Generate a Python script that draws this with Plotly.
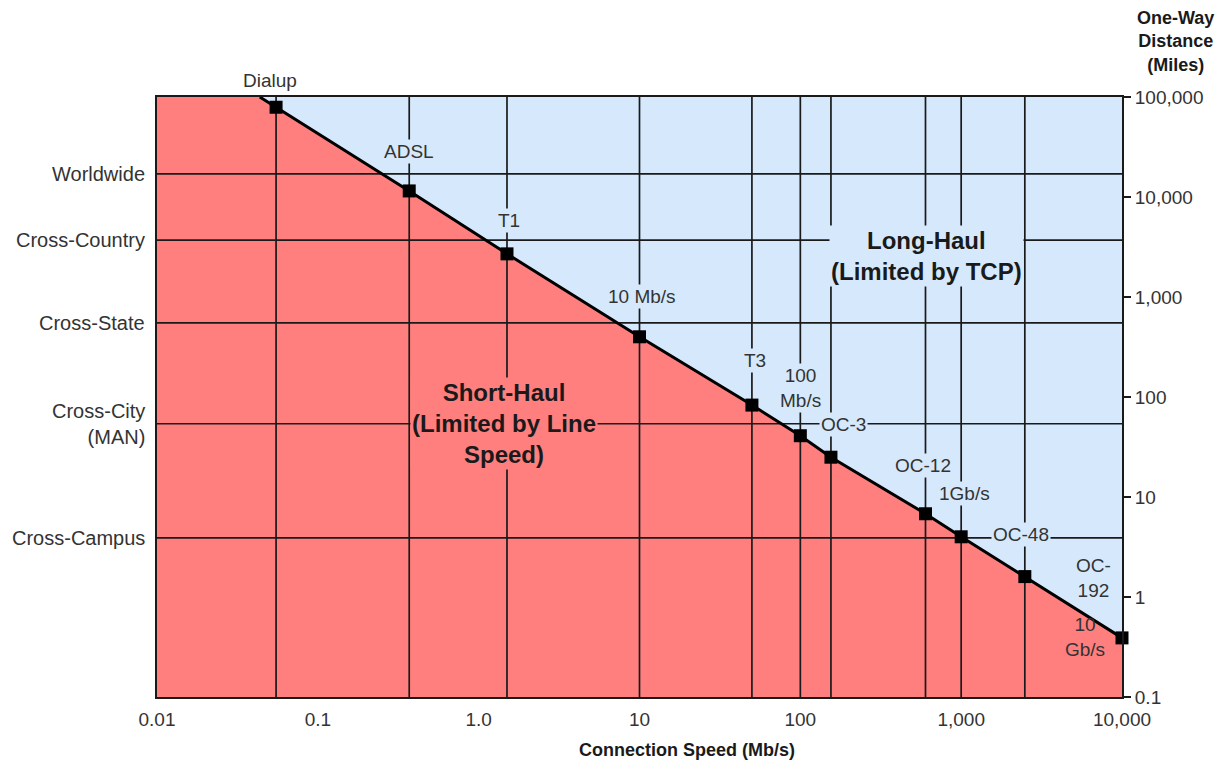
import math
import plotly.graph_objects as go

# connection types: speed (Mb/s) and the one-way distance (miles) where TCP window limits kick in
link_names = ['Dialup', 'ADSL', 'T1', '10 Mb/s', 'T3', '100<br>Mb/s', 'OC-3',
              'OC-12', '1Gb/s', 'OC-48', '10<br>Gb/s']
link_speeds = [0.055, 0.37, 1.5, 10, 50, 100, 155, 600, 1000, 2488, 10000]
link_distances = [79000, 11500, 2700, 400, 83, 41, 25, 6.8, 4.0, 1.6, 0.39]

zone_names = ['Worldwide', 'Cross-Country', 'Cross-State', 'Cross-City<br>(MAN)', 'Cross-Campus']
zone_distances = [17000, 3700, 550, 54, 3.9]

x_tickvals = [0.01, 0.1, 1, 10, 100, 1000, 10000]
x_ticktext = ['0.01', '0.1', '1.0', '10', '100', '1,000', '10,000']
y_tickvals = [0.1, 1, 10, 100, 1000, 10000, 100000]
y_ticktext = ['0.1', '1', '10', '100', '1,000', '10,000', '100,000']

RED = '#FF7F7F'
BLUE = '#D6E9FC'
FONT = 'Liberation Sans, Arial, sans-serif'
TXT = '#333333'

x_min, x_max = x_tickvals[0], x_tickvals[-1]
y_min, y_max = y_tickvals[0], y_tickvals[-1]

# extend the boundary line up to the top edge using the slope of the first segment
slope = ((math.log10(link_distances[1]) - math.log10(link_distances[0]))
         / (math.log10(link_speeds[1]) - math.log10(link_speeds[0])))
x_top = 10 ** (math.log10(link_speeds[0])
               + (math.log10(y_max) - math.log10(link_distances[0])) / slope)
line_x = [x_top] + link_speeds
line_y = [y_max] + link_distances

fig = go.Figure()

# short-haul (red) region below the line
fig.add_trace(go.Scatter(
    x=[x_min, x_min] + line_x + [x_max],
    y=[y_min, y_max] + line_y + [y_min],
    fill='toself', fillcolor=RED, mode='none', hoverinfo='skip', showlegend=False))

# grid lines
gx, gy = [], []
for s in link_speeds[:-1]:
    gx += [s, s, None]
    gy += [y_min, y_max, None]
for d in zone_distances:
    gx += [x_min, x_max, None]
    gy += [d, d, None]
fig.add_trace(go.Scatter(x=gx, y=gy, mode='lines', line=dict(color='#1a1a1a', width=1.7),
                         hoverinfo='skip', showlegend=False))

# boundary line and markers
fig.add_trace(go.Scatter(x=line_x, y=line_y, mode='lines', line=dict(color='black', width=3),
                         hoverinfo='skip', showlegend=False))
fig.add_trace(go.Scatter(x=link_speeds, y=link_distances, mode='markers', cliponaxis=False,
                         marker=dict(symbol='square', size=13, color='black'),
                         text=link_names, showlegend=False))

# label offsets (px) relative to each marker
label_shift = [(-6, 27), (0, 39), (2, 33), (2, 40), (3, 45), (0, 48), (13, 33),
               (-2, 48), (3, 43), (-4, 42), (-37, 1)]
for name, s, d, (dx, dy) in zip(link_names, link_speeds, link_distances, label_shift):
    bg = None if name in ('Dialup', '10<br>Gb/s') else BLUE
    fig.add_annotation(x=math.log10(s), y=math.log10(d), text=name, showarrow=False,
                       xshift=dx, yshift=dy, bgcolor=bg, borderpad=1,
                       font=dict(family=FONT, size=19, color=TXT))
# OC-192 sits in the blue area above the 10 Gb/s marker
fig.add_annotation(x=math.log10(link_speeds[-1]), y=math.log10(link_distances[-1]),
                   text='OC-<br>192', showarrow=False, xshift=-29, yshift=60,
                   bgcolor=BLUE, font=dict(family=FONT, size=19, color=TXT))

# zone labels on the left
for name, d in zip(zone_names, zone_distances):
    fig.add_annotation(x=0, xref='paper', y=math.log10(d), text=name, showarrow=False,
                       xanchor='right', xshift=-10, align='right',
                       font=dict(family=FONT, size=20, color=TXT))

# region labels
fig.add_annotation(x=0.36, xref='paper', y=0.455, yref='paper', xanchor='center',
                   yanchor='middle', text='<b>Short-Haul<br>(Limited by Line<br>Speed)</b>',
                   showarrow=False, bgcolor=RED, font=dict(family=FONT, size=24, color='#1a1a1a'))
fig.add_annotation(x=0.797, xref='paper', y=0.735, yref='paper', xanchor='center',
                   yanchor='middle', text='<b>Long-Haul<br>(Limited by TCP)</b>',
                   showarrow=False, bgcolor=BLUE, font=dict(family=FONT, size=24, color='#1a1a1a'))

# axis titles
fig.add_annotation(x=1, xref='paper', y=1, yref='paper', text='<b>One-Way<br>Distance<br>(Miles)</b>',
                   showarrow=False, xanchor='center', yanchor='bottom', xshift=53, yshift=20,
                   font=dict(family=FONT, size=18, color='#1a1a1a'))
fig.add_annotation(x=0.549, xref='paper', y=0, yref='paper', text='<b>Connection Speed (Mb/s)</b>',
                   showarrow=False, xanchor='center', yanchor='middle', yshift=-53,
                   font=dict(family=FONT, size=18, color='#1a1a1a'))

fig.update_layout(
    width=1215, height=762,
    margin=dict(l=157, r=93, t=97, b=65),
    paper_bgcolor='white',
    plot_bgcolor=BLUE,
    font=dict(family=FONT, size=19, color=TXT),
    xaxis=dict(type='log', range=[math.log10(x_min), math.log10(x_max)],
               tickvals=x_tickvals, ticktext=x_ticktext, showgrid=False, zeroline=False,
               showline=True, linecolor='#1a1a1a', linewidth=2, mirror=True, ticks='',
               ticklabelstandoff=4, automargin=False, tickfont=dict(size=19, color=TXT)),
    yaxis=dict(type='log', range=[math.log10(y_min), math.log10(y_max)], side='right',
               tickvals=y_tickvals, ticktext=y_ticktext, showgrid=False, zeroline=False,
               showline=True, linecolor='#1a1a1a', linewidth=2, mirror=True, automargin=False,
               ticks='outside', ticklen=7, tickcolor='#1a1a1a', tickwidth=1.5,
               tickfont=dict(size=19, color=TXT)),
)

fig.write_html("out.html", config={'displayModeBar': False},
               post_script="document.body.style.margin='0';")
